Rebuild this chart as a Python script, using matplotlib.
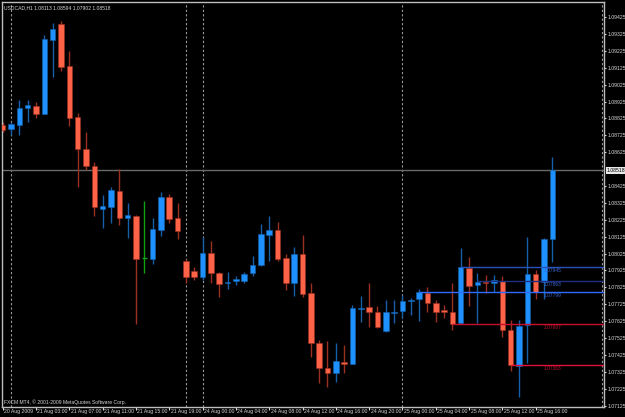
import numpy as np
import matplotlib
matplotlib.use("Agg")
import matplotlib.pyplot as plt
import matplotlib.transforms as mtransforms

plt.rcParams["font.family"] = ["Liberation Sans", "DejaVu Sans"]

# ------------------------------------------------------------------ #
# USDCAD H1 candles
# ------------------------------------------------------------------ #
opens = [1.08786, 1.08762, 1.08786, 1.08887, 1.08898, 1.08851, 1.09289, 1.09384, 1.09135, 1.08833,
         1.08644, 1.08543, 1.08289, 1.08301, 1.08395, 1.08236, 1.08247, 1.07999, 1.07993, 1.08165,
         1.08360, 1.08236, 1.07981, 1.07922, 1.07887, 1.08029, 1.07910, 1.07851, 1.07863, 1.07863,
         1.07910, 1.07958, 1.08135, 1.08165, 1.07999, 1.07851, 1.08023, 1.07792, 1.07496, 1.07348,
         1.07318, 1.07384, 1.07372, 1.07697, 1.07709, 1.07679, 1.07567, 1.07674, 1.07685, 1.07745,
         1.07756, 1.07792, 1.07733, 1.07691, 1.07679, 1.07614, 1.07940, 1.07839, 1.07857, 1.07851,
         1.07863, 1.07573, 1.07360, 1.07603, 1.07904, 1.07857, 1.08113]
highs = [1.08804, 1.08804, 1.08934, 1.08934, 1.08922, 1.09318, 1.09389, 1.09401, 1.09224, 1.08857,
         1.08745, 1.08567, 1.08372, 1.08419, 1.08526, 1.08324, 1.08253, 1.08336, 1.08236, 1.08389,
         1.08378, 1.08324, 1.07993, 1.07946, 1.08123, 1.08100, 1.07916, 1.07916, 1.07892, 1.07916,
         1.08011, 1.08200, 1.08247, 1.08212, 1.08023, 1.08064, 1.08135, 1.07851, 1.07514, 1.07508,
         1.07496, 1.07484, 1.07721, 1.07774, 1.07851, 1.07715, 1.07750, 1.07750, 1.07780, 1.07762,
         1.07816, 1.07827, 1.07750, 1.07721, 1.07851, 1.08058, 1.08005, 1.07910, 1.07898, 1.07898,
         1.07892, 1.07632, 1.07632, 1.08123, 1.07928, 1.08117, 1.08594]
lows = [1.08745, 1.08727, 1.08727, 1.08804, 1.08827, 1.08851, 1.09070, 1.09105, 1.08780, 1.08419,
        1.08520, 1.08247, 1.08176, 1.08206, 1.08194, 1.08117, 1.07608, 1.07910, 1.07963, 1.08129,
        1.08206, 1.08111, 1.07851, 1.07869, 1.07869, 1.07851, 1.07768, 1.07816, 1.07839, 1.07851,
        1.07892, 1.07952, 1.07981, 1.07981, 1.07810, 1.07774, 1.07768, 1.07413, 1.07259, 1.07236,
        1.07265, 1.07318, 1.07372, 1.07620, 1.07591, 1.07585, 1.07561, 1.07614, 1.07644, 1.07662,
        1.07626, 1.07679, 1.07620, 1.07644, 1.07573, 1.07614, 1.07715, 1.07614, 1.07792, 1.07798,
        1.07532, 1.07330, 1.07176, 1.07378, 1.07756, 1.07756, 1.07975]
closes = [1.08756, 1.08792, 1.08887, 1.08904, 1.08851, 1.09295, 1.09354, 1.09129, 1.08827, 1.08644,
          1.08543, 1.08301, 1.08307, 1.08401, 1.08236, 1.08253, 1.07993, 1.07999, 1.08171, 1.08360,
          1.08230, 1.08159, 1.07887, 1.07887, 1.08029, 1.07910, 1.07845, 1.07857, 1.07875, 1.07904,
          1.07958, 1.08141, 1.08165, 1.07993, 1.07851, 1.08023, 1.07786, 1.07496, 1.07348, 1.07318,
          1.07389, 1.07372, 1.07703, 1.07703, 1.07679, 1.07591, 1.07679, 1.07679, 1.07745, 1.07750,
          1.07798, 1.07733, 1.07679, 1.07679, 1.07607, 1.07945, 1.07833, 1.07857, 1.07851, 1.07869,
          1.07573, 1.07363, 1.07597, 1.07904, 1.07798, 1.08111, 1.08518]

# time labels every 4 bars
time_labels = ["20 Aug 2009", "21 Aug 03:00", "21 Aug 07:00", "21 Aug 11:00", "21 Aug 15:00",
               "21 Aug 19:00", "24 Aug 00:00", "24 Aug 04:00", "24 Aug 08:00", "24 Aug 12:00",
               "24 Aug 16:00", "24 Aug 20:00", "25 Aug 00:00", "25 Aug 04:00", "25 Aug 08:00",
               "25 Aug 12:00", "25 Aug 16:00"]
separators = [1, 22, 24, 48, 72]          # period separators (bar index)
price_ticks = [1.09425 - 0.001 * k for k in range(24)]
bid = 1.08518

# horizontal levels: (price, start bar, colour)
levels = [1.07945, 1.07863, 1.07799, 1.07607, 1.07363]
level_start = [55, 57, 50, 54, 61]
level_color = ["#2a52be", "#1c2f80", "#2f6bff", "#c8102e", "#e0103a"]
level_text = ["#3a66d0", "#3a66d0", "#3a66d0", "#c01030", "#c01030"]

BULL, BEAR = "#1e90ff", "#ff6347"
BULL_WICK, BEAR_WICK = "#1560a8", "#9a3020"
DOJI = "#10a010"
FG = "#d8d8d8"
FS = 3.7

W, H = 625, 417
fig = plt.figure(figsize=(W / 100, H / 100), dpi=100, facecolor="black")
ax = fig.add_axes([2 / W, 1 - 407 / H, 602 / W, 405 / H], facecolor="black")
XMIN, XMAX = -0.08, 72.2
YMIN, YMAX = 1.07117, 1.09514
ax.set_xlim(XMIN, XMAX)
ax.set_ylim(YMIN, YMAX)

# period separators
for s in separators:
    ax.axvline(s, color="#9a9a9a", lw=0.8, ls=(0, (2, 2)), zorder=1)

# current price line
ax.axhline(bid, color="#6a6a6a", lw=1.0, zorder=1)

# candles
x = np.arange(len(opens))
o, h, l, c = map(np.array, (opens, highs, lows, closes))
for i in x:
    if abs(c[i] - o[i]) < 1e-6:
        ax.vlines(i, l[i], h[i], color=DOJI, lw=1, zorder=3)
        ax.hlines(o[i], i - 0.33, i + 0.33, color=DOJI, lw=1, zorder=3)
        continue
    up = c[i] > o[i]
    ax.vlines(i, l[i], h[i], color=BULL_WICK if up else BEAR_WICK, lw=1, zorder=2)
    lo, hi = min(o[i], c[i]), max(o[i], c[i])
    ax.bar(i, hi - lo, bottom=lo, width=0.66, color=BULL if up else BEAR,
           edgecolor=BULL_WICK if up else BEAR_WICK, linewidth=0.4, zorder=3)

# horizontal levels with labels
for p, st, col, tc in zip(levels, level_start, level_color, level_text):
    ax.hlines(p, st, XMAX, color=col, lw=1.0, zorder=4)
    ax.text(64.9, p - 0.00006, f"{p:.5f}", color=tc, fontsize=3.5, va="top", ha="left", zorder=5)

# frame
for sp in ax.spines.values():
    sp.set_color("#bdbdbd")
    sp.set_linewidth(1.0)

# price axis
ax.yaxis.tick_right()
shown = [p for p in price_ticks if abs(p - bid) > 0.0004]
ax.set_yticks(shown)
ax.set_yticklabels([f"{p:.5f}" for p in shown])
ax.tick_params(axis="y", length=1.5, width=0.8, pad=0.8, labelsize=FS, colors=FG)
ax.text(1.0, bid, f"{bid:.5f}", transform=mtransforms.offset_copy(
            mtransforms.blended_transform_factory(ax.transAxes, ax.transData), fig=fig, x=2.6, units="dots"),
        ha="left", va="center", fontsize=FS, color="black",
        bbox=dict(boxstyle="square,pad=0.15", fc="#e8e8e8", ec="none"), zorder=6, clip_on=False)

# time axis
ax.set_xticks(np.arange(0, 4 * len(time_labels), 4))
ax.set_xticklabels([])
ax.tick_params(axis="x", length=2.5, width=0.8, colors=FG)
tr = mtransforms.offset_copy(ax.get_xaxis_transform(), fig=fig, x=1.5, y=-2.5, units="dots")
for k, lab in enumerate(time_labels):
    ax.text(4 * k, 0, lab, transform=tr, fontsize=FS, color=FG, ha="left", va="top")

# header / footer
fig.text(4 / W, 1 - 5 / H, "USDCAD,H1 1.08113 1.08594 1.07902 1.08518", fontsize=3.6, color=FG,
         ha="left", va="top")
fig.text(4 / W, 1 - 405 / H, "FXCM MT4, \u00a9 2001-2009 MetaQuotes Software Corp.", fontsize=3.6,
         color=FG, ha="left", va="bottom")

fig.savefig("out.png", dpi=100, facecolor="black")
